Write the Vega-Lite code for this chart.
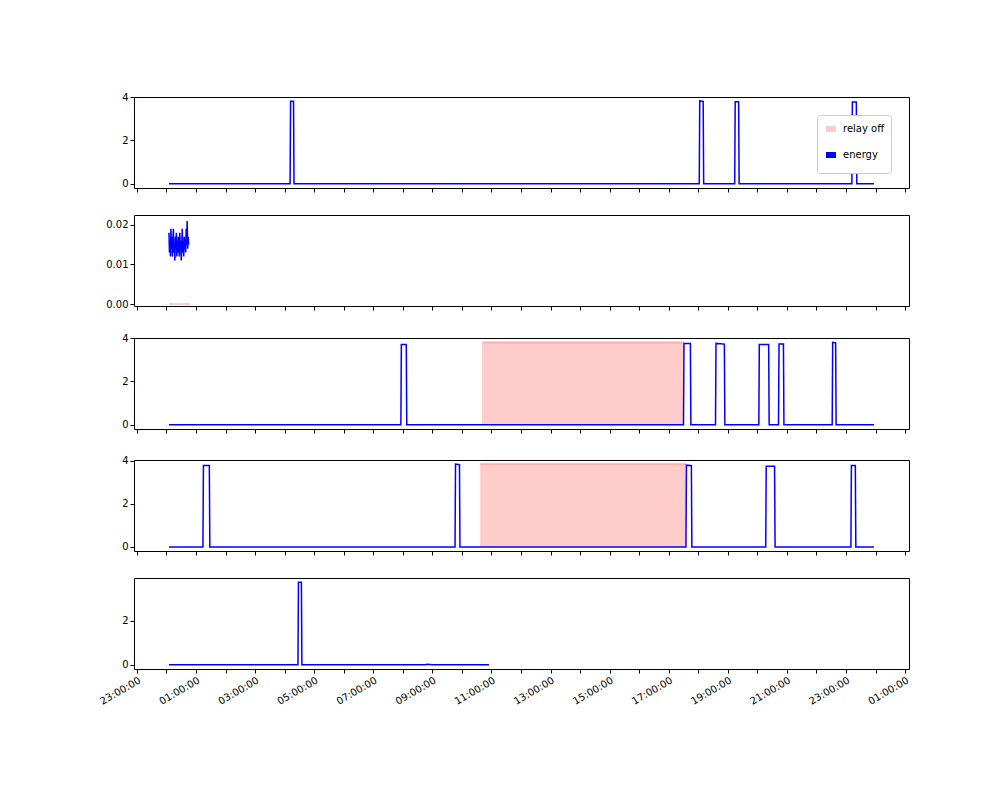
{
  "$schema": "https://vega.github.io/schema/vega-lite/v6.json",
  "padding": {"left": 97, "top": 91, "right": 0, "bottom": 0},
  "background": "white",
  "config": {
    "view": {"stroke": "black", "strokeWidth": 1},
    "axis": {"grid": false, "domain": false, "tickColor": "black", "labelColor": "black", "labelFont": "DejaVu Sans", "labelFontSize": 10, "tickSize": 4, "title": null},
    "legend": {"labelFont": "DejaVu Sans", "labelFontSize": 10},
    "concat": {"spacing": 21}
  },
  "datasets": {
    "p1": [
      {"t": "2024-01-02T00:05:00", "v": 0}, {"t": "2024-01-02T04:11:00", "v": 0}, {"t": "2024-01-02T04:12:00", "v": 3.8}, {"t": "2024-01-02T04:18:00", "v": 3.8}, {"t": "2024-01-02T04:19:00", "v": 0},
      {"t": "2024-01-02T18:02:00", "v": 0}, {"t": "2024-01-02T18:03:00", "v": 3.82}, {"t": "2024-01-02T18:10:00", "v": 3.8}, {"t": "2024-01-02T18:11:00", "v": 0},
      {"t": "2024-01-02T19:14:00", "v": 0}, {"t": "2024-01-02T19:15:00", "v": 3.78}, {"t": "2024-01-02T19:22:00", "v": 3.78}, {"t": "2024-01-02T19:23:00", "v": 0},
      {"t": "2024-01-02T23:12:00", "v": 0}, {"t": "2024-01-02T23:13:00", "v": 3.77}, {"t": "2024-01-02T23:21:00", "v": 3.77}, {"t": "2024-01-02T23:22:00", "v": 0},
      {"t": "2024-01-02T23:57:00", "v": 0}
    ],
    "p2": [
      {"t": "2024-01-02T00:05:00", "v": 0.018}, {"t": "2024-01-02T00:06:00", "v": 0.013}, {"t": "2024-01-02T00:07:00", "v": 0.016}, {"t": "2024-01-02T00:08:00", "v": 0.012},
      {"t": "2024-01-02T00:09:00", "v": 0.019}, {"t": "2024-01-02T00:10:00", "v": 0.014}, {"t": "2024-01-02T00:11:00", "v": 0.017}, {"t": "2024-01-02T00:12:00", "v": 0.012},
      {"t": "2024-01-02T00:13:00", "v": 0.016}, {"t": "2024-01-02T00:14:00", "v": 0.019}, {"t": "2024-01-02T00:15:00", "v": 0.013}, {"t": "2024-01-02T00:16:00", "v": 0.015},
      {"t": "2024-01-02T00:17:00", "v": 0.011}, {"t": "2024-01-02T00:18:00", "v": 0.017}, {"t": "2024-01-02T00:19:00", "v": 0.014}, {"t": "2024-01-02T00:20:00", "v": 0.018},
      {"t": "2024-01-02T00:21:00", "v": 0.012}, {"t": "2024-01-02T00:22:00", "v": 0.016}, {"t": "2024-01-02T00:23:00", "v": 0.013}, {"t": "2024-01-02T00:24:00", "v": 0.017},
      {"t": "2024-01-02T00:25:00", "v": 0.015}, {"t": "2024-01-02T00:26:00", "v": 0.012}, {"t": "2024-01-02T00:27:00", "v": 0.018}, {"t": "2024-01-02T00:28:00", "v": 0.014},
      {"t": "2024-01-02T00:29:00", "v": 0.016}, {"t": "2024-01-02T00:30:00", "v": 0.011}, {"t": "2024-01-02T00:31:00", "v": 0.015}, {"t": "2024-01-02T00:32:00", "v": 0.019},
      {"t": "2024-01-02T00:33:00", "v": 0.013}, {"t": "2024-01-02T00:34:00", "v": 0.016}, {"t": "2024-01-02T00:35:00", "v": 0.012}, {"t": "2024-01-02T00:36:00", "v": 0.017},
      {"t": "2024-01-02T00:37:00", "v": 0.014}, {"t": "2024-01-02T00:38:00", "v": 0.016}, {"t": "2024-01-02T00:39:00", "v": 0.013}, {"t": "2024-01-02T00:40:00", "v": 0.019},
      {"t": "2024-01-02T00:41:00", "v": 0.015}, {"t": "2024-01-02T00:42:00", "v": 0.021}, {"t": "2024-01-02T00:43:00", "v": 0.014}, {"t": "2024-01-02T00:44:00", "v": 0.017},
      {"t": "2024-01-02T00:45:00", "v": 0.015}
    ],
    "r2": [{"t": "2024-01-02T00:05:00", "v": 0}, {"t": "2024-01-02T00:48:00", "v": 0}],
    "p3": [
      {"t": "2024-01-02T00:05:00", "v": 0}, {"t": "2024-01-02T07:56:00", "v": 0}, {"t": "2024-01-02T07:57:00", "v": 3.7}, {"t": "2024-01-02T08:07:00", "v": 3.7}, {"t": "2024-01-02T08:08:00", "v": 0},
      {"t": "2024-01-02T17:30:00", "v": 0}, {"t": "2024-01-02T17:31:00", "v": 3.75}, {"t": "2024-01-02T17:44:00", "v": 3.75}, {"t": "2024-01-02T17:45:00", "v": 0},
      {"t": "2024-01-02T18:35:00", "v": 0}, {"t": "2024-01-02T18:36:00", "v": 3.75}, {"t": "2024-01-02T18:53:00", "v": 3.72}, {"t": "2024-01-02T18:54:00", "v": 0},
      {"t": "2024-01-02T20:03:00", "v": 0}, {"t": "2024-01-02T20:04:00", "v": 3.7}, {"t": "2024-01-02T20:23:00", "v": 3.7}, {"t": "2024-01-02T20:24:00", "v": 0},
      {"t": "2024-01-02T20:43:00", "v": 0}, {"t": "2024-01-02T20:44:00", "v": 3.72}, {"t": "2024-01-02T20:53:00", "v": 3.72}, {"t": "2024-01-02T20:54:00", "v": 0},
      {"t": "2024-01-02T22:32:00", "v": 0}, {"t": "2024-01-02T22:33:00", "v": 3.8}, {"t": "2024-01-02T22:39:00", "v": 3.78}, {"t": "2024-01-02T22:40:00", "v": 0},
      {"t": "2024-01-02T23:57:00", "v": 0}
    ],
    "r3": [{"t": "2024-01-02T10:41:00", "v": 3.8}, {"t": "2024-01-02T17:31:00", "v": 3.8}],
    "p4": [
      {"t": "2024-01-02T00:05:00", "v": 0}, {"t": "2024-01-02T01:14:00", "v": 0}, {"t": "2024-01-02T01:15:00", "v": 3.78}, {"t": "2024-01-02T01:27:00", "v": 3.78}, {"t": "2024-01-02T01:28:00", "v": 0},
      {"t": "2024-01-02T09:46:00", "v": 0}, {"t": "2024-01-02T09:47:00", "v": 3.85}, {"t": "2024-01-02T09:55:00", "v": 3.82}, {"t": "2024-01-02T09:56:00", "v": 0},
      {"t": "2024-01-02T17:35:00", "v": 0}, {"t": "2024-01-02T17:36:00", "v": 3.8}, {"t": "2024-01-02T17:46:00", "v": 3.78}, {"t": "2024-01-02T17:47:00", "v": 0},
      {"t": "2024-01-02T20:17:00", "v": 0}, {"t": "2024-01-02T20:18:00", "v": 3.75}, {"t": "2024-01-02T20:35:00", "v": 3.75}, {"t": "2024-01-02T20:36:00", "v": 0},
      {"t": "2024-01-02T23:10:00", "v": 0}, {"t": "2024-01-02T23:11:00", "v": 3.78}, {"t": "2024-01-02T23:19:00", "v": 3.78}, {"t": "2024-01-02T23:20:00", "v": 0},
      {"t": "2024-01-02T23:57:00", "v": 0}
    ],
    "r4": [{"t": "2024-01-02T10:37:00", "v": 3.86}, {"t": "2024-01-02T17:35:00", "v": 3.86}],
    "p5": [
      {"t": "2024-01-02T00:05:00", "v": 0}, {"t": "2024-01-02T04:27:00", "v": 0}, {"t": "2024-01-02T04:28:00", "v": 3.75}, {"t": "2024-01-02T04:34:00", "v": 3.75}, {"t": "2024-01-02T04:35:00", "v": 0},
      {"t": "2024-01-02T08:45:00", "v": 0}, {"t": "2024-01-02T08:50:00", "v": 0.02}, {"t": "2024-01-02T09:00:00", "v": 0},
      {"t": "2024-01-02T10:55:00", "v": 0}
    ]
  },
  "vconcat": [
    {
      "width": 775, "height": 91,
      "data": {"name": "p1"},
      "mark": {"type": "line", "color": "blue", "strokeWidth": 1.5, "interpolate": "linear"},
      "encoding": {
        "x": {"field": "t", "type": "temporal", "scale": {"domain": ["2024-01-01T22:54:00", "2024-01-03T01:08:00"], "nice": false}, "axis": {"labels": false, "values": ["2024-01-01T23:00:00","2024-01-02T00:00:00","2024-01-02T01:00:00","2024-01-02T02:00:00","2024-01-02T03:00:00","2024-01-02T04:00:00","2024-01-02T05:00:00","2024-01-02T06:00:00","2024-01-02T07:00:00","2024-01-02T08:00:00","2024-01-02T09:00:00","2024-01-02T10:00:00","2024-01-02T11:00:00","2024-01-02T12:00:00","2024-01-02T13:00:00","2024-01-02T14:00:00","2024-01-02T15:00:00","2024-01-02T16:00:00","2024-01-02T17:00:00","2024-01-02T18:00:00","2024-01-02T19:00:00","2024-01-02T20:00:00","2024-01-02T21:00:00","2024-01-02T22:00:00","2024-01-02T23:00:00","2024-01-03T00:00:00","2024-01-03T01:00:00"]}},
        "y": {"field": "v", "type": "quantitative", "scale": {"domain": [-0.19, 4.0], "nice": false, "zero": false}, "axis": {"values": [0, 2, 4]}}
      }
    },
    {
      "width": 775, "height": 91,
      "layer": [
        {"data": {"name": "r2"}, "mark": {"type": "area", "color": "red", "opacity": 0.2, "line": {"color": "red", "opacity": 0.2}}, "encoding": {"x": {"field": "t", "type": "temporal"}, "y": {"field": "v", "type": "quantitative"}}},
        {"data": {"name": "p2"}, "mark": {"type": "line", "color": "blue", "strokeWidth": 1.5}, "encoding": {"x": {"field": "t", "type": "temporal"}, "y": {"field": "v", "type": "quantitative"}}}
      ],
      "encoding": {
        "x": {"field": "t", "type": "temporal", "scale": {"domain": ["2024-01-01T22:54:00", "2024-01-03T01:08:00"], "nice": false}, "axis": {"labels": false, "values": ["2024-01-01T23:00:00","2024-01-02T00:00:00","2024-01-02T01:00:00","2024-01-02T02:00:00","2024-01-02T03:00:00","2024-01-02T04:00:00","2024-01-02T05:00:00","2024-01-02T06:00:00","2024-01-02T07:00:00","2024-01-02T08:00:00","2024-01-02T09:00:00","2024-01-02T10:00:00","2024-01-02T11:00:00","2024-01-02T12:00:00","2024-01-02T13:00:00","2024-01-02T14:00:00","2024-01-02T15:00:00","2024-01-02T16:00:00","2024-01-02T17:00:00","2024-01-02T18:00:00","2024-01-02T19:00:00","2024-01-02T20:00:00","2024-01-02T21:00:00","2024-01-02T22:00:00","2024-01-02T23:00:00","2024-01-03T00:00:00","2024-01-03T01:00:00"]}},
        "y": {"field": "v", "type": "quantitative", "scale": {"domain": [-0.0005, 0.0225], "nice": false, "zero": false}, "axis": {"values": [0, 0.01, 0.02], "format": ".2f"}}
      }
    },
    {
      "width": 775, "height": 91,
      "layer": [
        {"data": {"name": "r3"}, "mark": {"type": "area", "color": "red", "opacity": 0.2, "line": {"color": "red", "opacity": 0.2}}, "encoding": {"x": {"field": "t", "type": "temporal"}, "y": {"field": "v", "type": "quantitative"}}},
        {"data": {"name": "p3"}, "mark": {"type": "line", "color": "blue", "strokeWidth": 1.5}, "encoding": {"x": {"field": "t", "type": "temporal"}, "y": {"field": "v", "type": "quantitative"}}}
      ],
      "encoding": {
        "x": {"field": "t", "type": "temporal", "scale": {"domain": ["2024-01-01T22:54:00", "2024-01-03T01:08:00"], "nice": false}, "axis": {"labels": false, "values": ["2024-01-01T23:00:00","2024-01-02T00:00:00","2024-01-02T01:00:00","2024-01-02T02:00:00","2024-01-02T03:00:00","2024-01-02T04:00:00","2024-01-02T05:00:00","2024-01-02T06:00:00","2024-01-02T07:00:00","2024-01-02T08:00:00","2024-01-02T09:00:00","2024-01-02T10:00:00","2024-01-02T11:00:00","2024-01-02T12:00:00","2024-01-02T13:00:00","2024-01-02T14:00:00","2024-01-02T15:00:00","2024-01-02T16:00:00","2024-01-02T17:00:00","2024-01-02T18:00:00","2024-01-02T19:00:00","2024-01-02T20:00:00","2024-01-02T21:00:00","2024-01-02T22:00:00","2024-01-02T23:00:00","2024-01-03T00:00:00","2024-01-03T01:00:00"]}},
        "y": {"field": "v", "type": "quantitative", "scale": {"domain": [-0.19, 4.0], "nice": false, "zero": false}, "axis": {"values": [0, 2, 4]}}
      }
    },
    {
      "width": 775, "height": 91,
      "layer": [
        {"data": {"name": "r4"}, "mark": {"type": "area", "color": "red", "opacity": 0.2, "line": {"color": "red", "opacity": 0.2}}, "encoding": {"x": {"field": "t", "type": "temporal"}, "y": {"field": "v", "type": "quantitative"}}},
        {"data": {"name": "p4"}, "mark": {"type": "line", "color": "blue", "strokeWidth": 1.5}, "encoding": {"x": {"field": "t", "type": "temporal"}, "y": {"field": "v", "type": "quantitative"}}}
      ],
      "encoding": {
        "x": {"field": "t", "type": "temporal", "scale": {"domain": ["2024-01-01T22:54:00", "2024-01-03T01:08:00"], "nice": false}, "axis": {"labels": false, "values": ["2024-01-01T23:00:00","2024-01-02T00:00:00","2024-01-02T01:00:00","2024-01-02T02:00:00","2024-01-02T03:00:00","2024-01-02T04:00:00","2024-01-02T05:00:00","2024-01-02T06:00:00","2024-01-02T07:00:00","2024-01-02T08:00:00","2024-01-02T09:00:00","2024-01-02T10:00:00","2024-01-02T11:00:00","2024-01-02T12:00:00","2024-01-02T13:00:00","2024-01-02T14:00:00","2024-01-02T15:00:00","2024-01-02T16:00:00","2024-01-02T17:00:00","2024-01-02T18:00:00","2024-01-02T19:00:00","2024-01-02T20:00:00","2024-01-02T21:00:00","2024-01-02T22:00:00","2024-01-02T23:00:00","2024-01-03T00:00:00","2024-01-03T01:00:00"]}},
        "y": {"field": "v", "type": "quantitative", "scale": {"domain": [-0.19, 4.04], "nice": false, "zero": false}, "axis": {"values": [0, 2, 4]}}
      }
    },
    {
      "width": 775, "height": 91,
      "data": {"name": "p5"},
      "transform": [{"calculate": "'energy'", "as": "s"}],
      "mark": {"type": "line", "strokeWidth": 1.5},
      "encoding": {
        "x": {"field": "t", "type": "temporal", "scale": {"domain": ["2024-01-01T22:54:00", "2024-01-03T01:08:00"], "nice": false}, "axis": {"format": "%H:%M:%S", "labelAngle": -30, "labelAlign": "right", "labelBaseline": "top", "values": ["2024-01-01T23:00:00","2024-01-02T00:00:00","2024-01-02T01:00:00","2024-01-02T02:00:00","2024-01-02T03:00:00","2024-01-02T04:00:00","2024-01-02T05:00:00","2024-01-02T06:00:00","2024-01-02T07:00:00","2024-01-02T08:00:00","2024-01-02T09:00:00","2024-01-02T10:00:00","2024-01-02T11:00:00","2024-01-02T12:00:00","2024-01-02T13:00:00","2024-01-02T14:00:00","2024-01-02T15:00:00","2024-01-02T16:00:00","2024-01-02T17:00:00","2024-01-02T18:00:00","2024-01-02T19:00:00","2024-01-02T20:00:00","2024-01-02T21:00:00","2024-01-02T22:00:00","2024-01-02T23:00:00","2024-01-03T00:00:00","2024-01-03T01:00:00"]}},
        "y": {"field": "v", "type": "quantitative", "scale": {"domain": [-0.19, 3.94], "nice": false, "zero": false}, "axis": {"values": [0, 2]}},
        "color": {"field": "s", "type": "nominal", "scale": {"domain": ["relay off", "energy"], "range": ["#ffcccc", "blue"]}, "legend": {"title": null, "orient": "top-right", "strokeColor": "#cccccc", "fillColor": "white", "padding": 6, "cornerRadius": 3, "symbolType": "stroke", "symbolStrokeWidth": 6}}
      }
    }
  ]
}
